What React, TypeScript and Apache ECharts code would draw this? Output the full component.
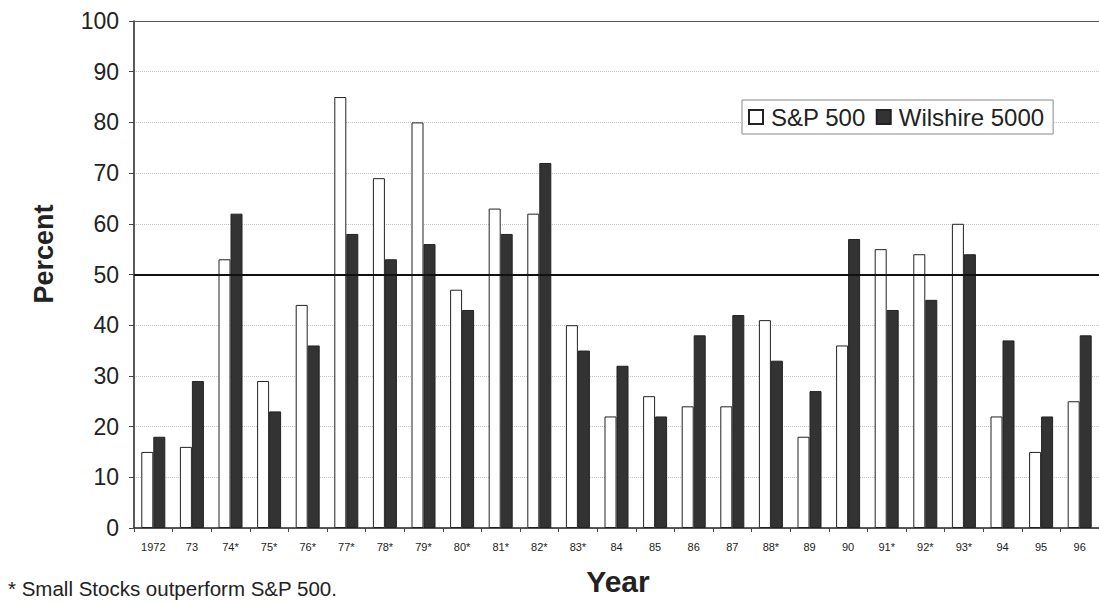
import React, { useEffect, useRef } from "react";
import * as echarts from "echarts";

const years = ["1972", "73", "74*", "75*", "76*", "77*", "78*", "79*", "80*", "81*", "82*", "83*", "84", "85", "86", "87", "88*", "89", "90", "91*", "92*", "93*", "94", "95", "96"];
const sp500 = [15, 16, 53, 29, 44, 85, 69, 80, 47, 63, 62, 40, 22, 26, 24, 24, 41, 18, 36, 55, 54, 60, 22, 15, 25];
const wilshire = [18, 29, 62, 23, 36, 58, 53, 56, 43, 58, 72, 35, 32, 22, 38, 42, 33, 27, 57, 43, 45, 54, 37, 22, 38];
const yTicks = [0, 10, 20, 30, 40, 50, 60, 70, 80, 90, 100];

const FONT = "'Liberation Sans', Arial, sans-serif";

export default function App() {
  const ref = useRef<HTMLDivElement>(null);
  useEffect(() => {
    if (!ref.current) return;
    const chart = echarts.init(ref.current, null, { renderer: "svg" });
    chart.setOption({
      animation: false,
      backgroundColor: "#ffffff",
      textStyle: { fontFamily: FONT },
      grid: { left: 134, right: -9, top: 21, bottom: 73 },
      legend: {
        left: 742,
        top: 100,
        icon: "rect",
        itemWidth: 14,
        itemHeight: 14,
        itemGap: 10,
        padding: [5, 9, 5, 6],
        borderColor: "#888",
        borderWidth: 1,
        backgroundColor: "#fff",
        textStyle: { fontSize: 24, color: "#222", fontFamily: FONT, padding: [0, 0, 0, 3] },
        data: ["S&P 500", "Wilshire 5000"],
      },
      xAxis: {
        type: "category",
        data: years,
        axisLine: { lineStyle: { color: "#222", width: 1.5 } },
        axisTick: { show: true, length: 4, lineStyle: { color: "#444" } },
        axisLabel: { fontSize: 11, color: "#222", margin: 13, interval: 0 },
      },
      yAxis: {
        type: "value",
        min: yTicks[0],
        max: yTicks[yTicks.length - 1],
        interval: 10,
        axisLine: { show: true, lineStyle: { color: "#222", width: 1.5 } },
        axisTick: { show: true, length: 5, lineStyle: { color: "#444" } },
        axisLabel: { fontSize: 23, color: "#222", margin: 15 },
        splitLine: { show: true, lineStyle: { color: "#c4c4c4", type: "dotted", width: 1 } },
      },
      series: [
        {
          name: "S&P 500",
          type: "bar",
          data: sp500,
          barWidth: 12,
          barGap: "0%",
          itemStyle: { color: "#ffffff", borderColor: "#222", borderWidth: 1 },
          markLine: {
            silent: true,
            symbol: "none",
            label: { show: false },
            data: [
              { yAxis: 50, lineStyle: { color: "#111", width: 2, type: "solid" } },
              { yAxis: 100, lineStyle: { color: "#555", width: 1.2, type: "solid" } },
            ],
          },
        },
        {
          name: "Wilshire 5000",
          type: "bar",
          data: wilshire,
          barWidth: 12,
          barGap: "0%",
          itemStyle: { color: "#333333", borderColor: "#222", borderWidth: 1 },
        },
      ],
      graphic: [
        {
          type: "text",
          x: 44,
          y: 254,
          rotation: Math.PI / 2,
          style: { text: "Percent", fontSize: 27, fontWeight: "bold", fill: "#222", fontFamily: FONT, align: "center", verticalAlign: "middle" },
        },
        {
          type: "text",
          x: 618,
          y: 581,
          style: { text: "Year", fontSize: 30, fontWeight: "bold", fill: "#222", fontFamily: FONT, align: "center", verticalAlign: "middle" },
        },
        {
          type: "text",
          x: 8,
          y: 588,
          style: { text: "* Small Stocks outperform S&P 500.", fontSize: 20.5, fill: "#222", fontFamily: FONT, align: "left", verticalAlign: "middle" },
        },
      ],
    });
    return () => chart.dispose();
  }, []);
  return <div ref={ref} style={{ width: 1099, height: 601, position: "fixed", left: 0, top: 0 }} />;
}
